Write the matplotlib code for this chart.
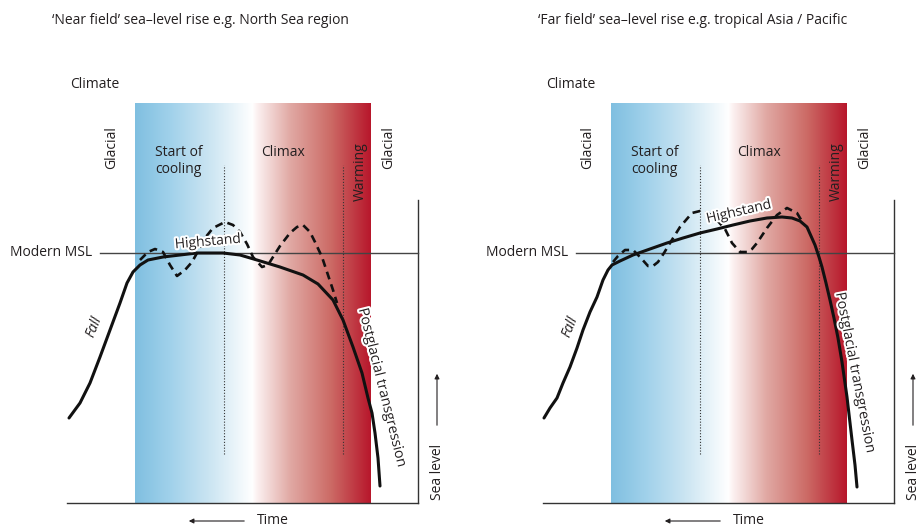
import matplotlib.pyplot as plt
import matplotlib.patheffects as pe
import numpy as np

plt.rcParams['font.family'] = ['Open Sans', 'DejaVu Sans']

# ----- ----- DATA (time position, sea level relative to modern MSL) ----- -----
near_solid_t = [69, 80, 90, 100, 110, 120, 127, 133, 140, 148, 163, 180, 197, 223, 240, 257,
                280, 303, 318, 333, 343, 353, 362, 368, 372, 375, 378, 380]
near_solid_sl = [-165, -150, -130, -104, -77, -50, -30, -19, -12, -7, -4, -2, 0, 0, -2, -7,
                 -14, -22, -31, -47, -67, -94, -120, -145, -160, -180, -205, -233]

near_dash_t = [140, 148, 155, 163, 170, 177, 185, 192, 197, 205, 213, 225, 233, 240, 247, 253,
               262, 268, 273, 280, 290, 297, 303, 310, 315, 322, 328, 333, 337]
near_dash_sl = [-7, 1, 4, 1, -12, -23, -17, -9, 0, 15, 25, 31, 28, 21, 9, -4,
                -14, -12, -4, 7, 20, 26, 28, 21, 11, -4, -22, -37, -50]

far_solid_t = [68, 74, 81, 87, 94, 101, 107, 114, 121, 127, 132, 136, 144, 157, 174, 191, 207,
               224, 241, 257, 274, 291, 306, 316, 324, 331, 335, 339, 343, 346, 350, 354, 358,
               362, 366, 371, 376, 379, 381]
far_solid_sl = [-165, -155, -145, -130, -114, -95, -77, -59, -44, -27, -17, -12, -8, -2, 4, 10, 15,
                20, 24, 28, 32, 35, 36, 35, 32, 26, 17, 8, -4, -14, -30, -47, -65,
                -85, -109, -144, -187, -212, -234]

far_dash_t = [137, 142, 149, 157, 164, 172, 177, 182, 188, 194, 204, 216, 224, 232, 240, 249,
              256, 264, 271, 276, 281, 291, 301, 311, 321, 327]
far_dash_sl = [-9, -3, 3, 3, -4, -13, -13, -9, 0, 10, 26, 40, 42, 40, 34, 24,
               10, 1, 1, 4, 10, 25, 38, 45, 40, 30]

titles = ["\u2018Near field\u2019 sea\u2013level rise e.g. North Sea region",
          "\u2018Far field\u2019 sea\u2013level rise e.g. tropical Asia / Pacific"]

# climate band colour stops (x position, rgb)
band_x = [135, 170, 210, 252, 256, 290, 330, 370]
band_rgb = [(0.50, 0.75, 0.88), (0.63, 0.82, 0.92), (0.80, 0.90, 0.95), (1.0, 1.0, 1.0),
            (0.99, 0.95, 0.95), (0.88, 0.66, 0.64), (0.80, 0.42, 0.40), (0.72, 0.09, 0.17)]

TXT = '#231f20'
FS = 10


def draw_panel(ax, title, title_x, solid_t, solid_sl, dash_t, dash_sl, hs_xy, hs_rot, pg_xy, pg_rot):
	# gradient band
	xs = np.linspace(135, 370, 400)
	img = np.stack([np.interp(xs, band_x, [c[i] for c in band_rgb]) for i in range(3)], axis=-1)
	ax.imshow(img[np.newaxis, :, :], extent=[135, 370, -250, 150], aspect='auto',
	          interpolation='bilinear', zorder=0)

	# frame lines
	ax.plot([67, 418], [-250, -250], color='#333333', lw=1.0, zorder=2)
	ax.plot([418, 418], [-250, 53], color='#333333', lw=1.0, zorder=2)
	ax.plot([100, 418], [0, 0], color='#444444', lw=1.0, zorder=2)

	# dotted dividers
	for xv in (224, 343):
		ax.plot([xv, xv], [-201, 88], color='#333333', lw=0.8, ls=(0, (1, 1.6)), zorder=2)

	# curves
	ax.plot(dash_t, dash_sl, color='#111111', lw=1.9, ls=(0, (3, 2)), zorder=3)
	ax.plot(solid_t, solid_sl, color='#111111', lw=2.2, solid_capstyle='round', zorder=4)

	# labels
	ax.text(title_x, 233, title, fontsize=10, color=TXT, va='center', ha='left')
	ax.text(70, 168, 'Climate', fontsize=FS, color=TXT, va='center', ha='left')
	ax.text(112, 105, 'Glacial', fontsize=FS, color=TXT, rotation=90, va='center', ha='center')
	ax.text(389, 105, 'Glacial', fontsize=FS, color=TXT, rotation=90, va='center', ha='center')
	ax.text(155, 92, 'Start of\ncooling', fontsize=FS, color=TXT, va='center', ha='left', linespacing=1.25)
	ax.text(261, 101, 'Climax', fontsize=FS, color=TXT, va='center', ha='left')
	ax.text(360, 81, 'Warming', fontsize=FS, color=TXT, rotation=90, va='center', ha='center')
	ax.text(92, 0, 'Modern MSL', fontsize=FS, color=TXT, va='center', ha='right')
	ax.text(hs_xy[0], hs_xy[1], 'Highstand', fontsize=FS, color=TXT, rotation=hs_rot,
	        va='center', ha='center', zorder=5,
	        path_effects=[pe.withStroke(linewidth=3, foreground='white')])
	ax.text(94, -74, 'Fall', fontsize=FS, color=TXT, rotation=68, style='italic',
	        va='center', ha='center')
	ax.text(pg_xy[0], pg_xy[1], 'Postglacial transgression', fontsize=10.2, color=TXT,
	        rotation=pg_rot, va='center', ha='center', rotation_mode='anchor',
	        path_effects=[pe.withStroke(linewidth=3, foreground='white')], zorder=5)
	ax.text(437, -219, 'Sea level', fontsize=FS, color=TXT, rotation=90, va='center', ha='center')
	ax.annotate('', xy=(437, -118), xytext=(437, -175),
	            arrowprops=dict(arrowstyle='-|>', lw=0.8, color=TXT, mutation_scale=7))
	ax.text(257, -267, 'Time', fontsize=FS, color=TXT, va='center', ha='left')
	ax.annotate('', xy=(186, -268), xytext=(247, -268),
	            arrowprops=dict(arrowstyle='-|>', lw=0.8, color=TXT, mutation_scale=7))


fig = plt.figure(figsize=(9.22, 5.27), dpi=100)
ax_near = fig.add_axes([0, 0, 1, 1])
ax_far = fig.add_axes([0, 0, 1, 1])
ax_near.set_xlim(0, 922)
ax_far.set_xlim(-476, 446)
for ax in (ax_near, ax_far):
	ax.set_ylim(-274, 253)
	ax.axis('off')
	ax.patch.set_alpha(0)

draw_panel(ax_near, titles[0], 52, near_solid_t, near_solid_sl, near_dash_t, near_dash_sl,
           (208, 11), 5, (382, -135), -76)
draw_panel(ax_far, titles[1], 62, far_solid_t, far_solid_sl, far_dash_t, far_dash_sl,
           (263, 41), 13, (379, -120), -79)

fig.savefig('out.png', dpi=100)
